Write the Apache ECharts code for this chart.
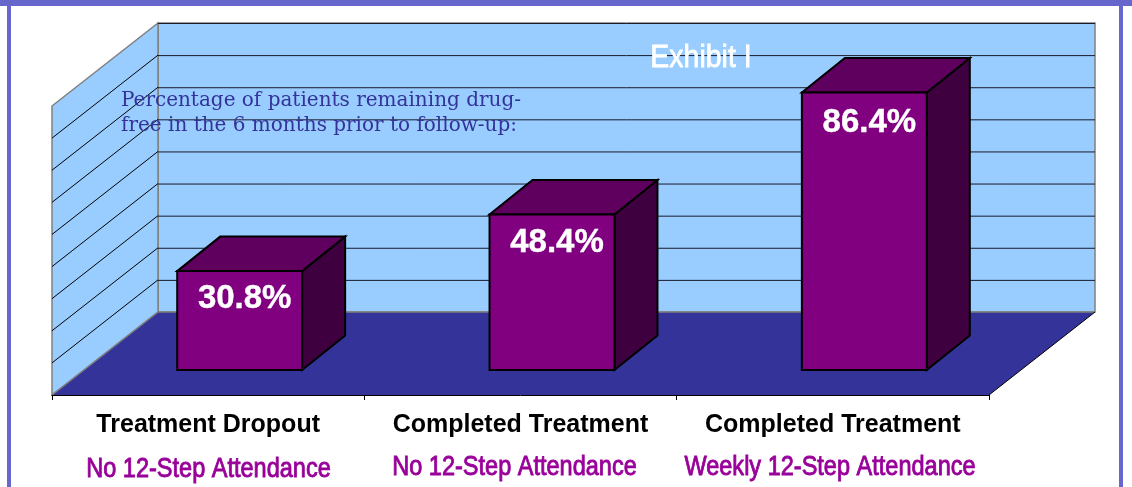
<!DOCTYPE html>
<html><head><meta charset="utf-8">
<style>html,body{margin:0;padding:0;background:#fff}#c{width:1132px;height:487px}</style>
<script src="https://cdn.jsdelivr.net/npm/echarts@6/dist/echarts.min.js"></script>
</head><body><div id="c"></div>
<script>
const categories = ['Treatment Dropout','Completed Treatment','Completed Treatment'];
const attendance = ['No 12-Step Attendance','No 12-Step Attendance','Weekly 12-Step Attendance'];
const values = [30.8,48.4,86.4];
const yTicks = [0,10,20,30,40,50,60,70,80,90];
const title = 'Exhibit I';
const note = 'Percentage of patients remaining drug-\nfree in the 6 months prior to follow-up:';

const DX=106, DY=-83, BX=32, BY=-25, SX=43, SY=-34.5;
const pts=a=>({points:a});
const chart = echarts.init(document.getElementById('c'),null,{renderer:'canvas'});
const sans="'Liberation Sans',Arial,sans-serif";
const labelDy=[27.5,28.5,30];

function wall(p,api){
  const a=api.coord([0,0]); const left=a[0]-api.size([1,0])[0]/2;
  const right=left+api.size([1,0])[0]*categories.length;
  const y0=api.coord([0,0])[1], yT=api.coord([0,90])[1];
  const bd={stroke:'#808080',lineWidth:1.5};
  return {type:'group',children:[
    {type:'polygon',shape:pts([[left+DX,yT+DY],[right+DX,yT+DY],[right+DX,y0+DY],[left+DX,y0+DY]]),style:{fill:'#99ccff',...bd}},
    {type:'polygon',shape:pts([[left,yT],[left+DX,yT+DY],[left+DX,y0+DY],[left,y0]]),style:{fill:'#99ccff',...bd}},
  ]};
}
function grid(p,api){
  const v=api.value(0), c=api.coord([0,v]), w=api.size([1,0])[0];
  const left=c[0]-w/2, right=left+w*categories.length, y=c[1];
  if(v===0) return {type:'group',children:[]};
  return {type:'group',children:[
    {type:'line',shape:{x1:left+DX,y1:y+DY+0.5,x2:right+DX,y2:y+DY+0.5},style:{stroke:'#1a1a2a',lineWidth:1}},
    ...(v===90?[]:[{type:'line',shape:{x1:left,y1:y,x2:left+DX,y2:y+DY},style:{stroke:'#000',lineWidth:1}}])
  ]};
}
function floor(p,api){
  const c=api.coord([0,0]), w=api.size([1,0])[0];
  const left=c[0]-w/2, right=left+w*categories.length, y=c[1];
  return {type:'group',children:[
    {type:'polygon',shape:pts([[left,y],[left+DX,y+DY],[right+DX,y+DY],[right,y]]),style:{fill:'#333399'}},
    {type:'line',shape:{x1:left,y1:y,x2:left+DX,y2:y+DY},style:{stroke:'#808080',lineWidth:1.5}},
    {type:'line',shape:{x1:left+DX,y1:y+DY,x2:right+DX,y2:y+DY},style:{stroke:'#808080',lineWidth:1.5}},
    {type:'line',shape:{x1:right,y1:y,x2:right+DX,y2:y+DY},style:{stroke:'#000',lineWidth:1}}
  ]};
}
function bar(p,api){
  const i=api.value(0), v=api.value(1);
  const c0=api.coord([i,0]), c1=api.coord([i,v]), w=api.size([1,0])[0]*0.4;
  const l=c0[0]+BX-w/2-0.5, r=l+w, b=c0[1]+BY, t=c1[1]+BY;
  const ln={stroke:'#000',lineWidth:2,lineJoin:'miter'};
  return {type:'group',children:[
    {type:'polygon',shape:pts([[r,t],[r+SX,t+SY],[r+SX,b+SY],[r,b]]),style:{fill:'#3f003f',...ln}},
    {type:'polygon',shape:pts([[l,t],[l+SX,t+SY],[r+SX,t+SY],[r,t]]),style:{fill:'#5f005f',...ln}},
    {type:'rect',shape:{x:l,y:t,width:w,height:b-t},style:{fill:'#800080',...ln}},
    {type:'text',x:(l+r)/2+5,y:t+labelDy[i],style:{text:v.toFixed(1)+'%',fill:'#fff',stroke:'#fff',lineWidth:0.4,align:'center',verticalAlign:'middle',
      font:"bold 33px "+sans}}
  ]};
}
const subPos=[[208.5,469],[514.5,467],[830,467]];
chart.setOption({
  animation:false,
  backgroundColor:'#fff',
  grid:{left:52,width:937,top:106,height:289},
  xAxis:{type:'category',data:categories,boundaryGap:true,z:20,
    axisLine:{show:true,lineStyle:{color:'#000',width:1}},
    axisTick:{show:true,length:5,alignWithLabel:false,lineStyle:{color:'#000'}},
    axisLabel:{color:'#000',fontFamily:sans,fontWeight:'bold',fontSize:25,margin:18,interval:0}},
  yAxis:{type:'value',min:0,max:90,interval:10,show:false,splitLine:{show:false}},
  series:[
    {type:'custom',coordinateSystem:'cartesian2d',z:1,data:[[0]],renderItem:wall,silent:true},
    {type:'custom',coordinateSystem:'cartesian2d',z:2,data:yTicks.map(v=>[v]),encode:{y:0},renderItem:grid,silent:true},
    {type:'custom',coordinateSystem:'cartesian2d',z:3,data:[[0]],renderItem:floor,silent:true},
    {type:'custom',coordinateSystem:'cartesian2d',z:5,data:values.map((v,i)=>[i,v]),encode:{x:0,y:1},renderItem:bar,silent:true}
  ],
  graphic:[
    {type:'rect',shape:{x:0,y:0,width:1132,height:6},style:{fill:'#6666cc'},z:50},
    {type:'rect',shape:{x:7,y:0,width:4,height:487},style:{fill:'#6666cc'},z:50},
    {type:'rect',shape:{x:1119,y:0,width:4,height:487},style:{fill:'#6666cc'},z:50},
    {type:'text',x:701,y:58,scaleX:0.89,z:50,style:{text:title,fill:'#fff',stroke:'#fff',lineWidth:0.8,align:'center',verticalAlign:'middle',font:"32px "+sans}},
    {type:'text',x:121,y:113,z:50,style:{text:note,fill:'#333399',align:'left',verticalAlign:'middle',lineHeight:25,font:"20px 'DejaVu Serif',serif"}},
    ...attendance.map((t,i)=>({type:'text',x:subPos[i][0],y:subPos[i][1],scaleX:0.84,z:50,style:{text:t,fill:'#990099',stroke:'#990099',lineWidth:0.9,align:'center',verticalAlign:'middle',font:"28px "+sans}}))
  ]
});
</script></body></html>
